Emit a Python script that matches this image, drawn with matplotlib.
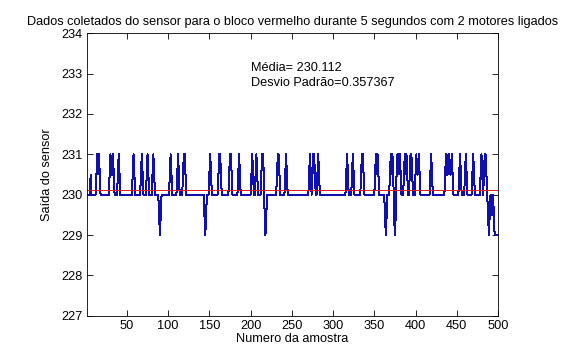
import numpy as np
import matplotlib.pyplot as plt

plt.rcParams['font.family'] = ['Liberation Sans', 'DejaVu Sans']

# leituras do sensor: nivel base 230 com picos e vales
n_amostras = 500
nivel_base = 230.0
# amostras onde o sinal sobe ate 231
picos = [14, 16, 30, 33, 40, 58, 68, 75, 82, 103, 112, 119, 151, 162, 175, 186,
         202, 207, 214, 233, 243, 272, 276, 282, 317, 324, 335, 352, 354, 370,
         372, 378, 381, 387, 389, 394, 401, 404, 419, 437, 440, 444, 454, 461,
         470, 480, 484]
# picos que ficam mais de uma amostra em 231
picos_largos = [119, 162, 175, 214, 233, 276, 335, 378, 394, 440, 484]
# amostras onde o sinal desce ate 229
vales = [90, 145, 218, 364, 375, 489]
# so meio degrau (230.5)
meios = [6]
# final da serie
final_amostras = [492, 493, 494, 495, 496, 497, 498, 499, 500]
final_valores = [229.5, 229.5, 230.0, 229.5, 229.0, 229.0, 229.0, 229.0, 229.0]

media = 230.112
desvio = 0.357367

amostras = np.arange(1, n_amostras + 1)
leitura = np.full(n_amostras, nivel_base)
for c in meios:
    leitura[c - 1] = 230.5
for c in picos:
    w = 2 if c in picos_largos else 1
    leitura[c - 2] = max(leitura[c - 2], 230.5)
    leitura[c - 1:c - 1 + w] = 231.0
    leitura[c - 1 + w] = max(leitura[c - 1 + w], 230.5)
for c in vales:
    leitura[c - 2] = min(leitura[c - 2], 229.5)
    leitura[c - 1] = 229.0
    leitura[c] = min(leitura[c], 229.5)
for a, v in zip(final_amostras, final_valores):
    leitura[a - 1] = v

fig = plt.figure(figsize=(5.77, 3.6), dpi=100)
ax = fig.add_axes([0.150, 0.123, 0.713, 0.7845])

ax.plot(amostras, leitura, color='#1010b0', lw=0.72, antialiased=False)
ax.plot(amostras, np.full(n_amostras, media), color='#e02020', lw=0.72,
        antialiased=False)

ax.set_xlim(1, 500)
ax.set_ylim(227, 234)
ax.set_xticks(np.arange(50, 501, 50))
ax.set_yticks(np.arange(227, 235, 1))
ax.tick_params(direction='in', length=4, width=0.6, top=True, right=True,
               labelsize=9.2, pad=3)
for s in ax.spines.values():
    s.set_linewidth(0.6)

ax.set_title('Dados coletados do sensor para o bloco vermelho durante 5 segundos com 2 motores ligados',
             fontsize=9.2, pad=6)
ax.set_xlabel('Numero da amostra', fontsize=9.2, labelpad=1)
ax.set_ylabel('Saída do sensor', fontsize=9.2, labelpad=6)

ax.text(200, 232.95, 'Média= %.3f\nDesvio Padrão=%.6f' % (media, desvio),
        fontsize=9.2, ha='left', va='center', linespacing=1.35)

fig.savefig('out.png', dpi=100, facecolor='white')
